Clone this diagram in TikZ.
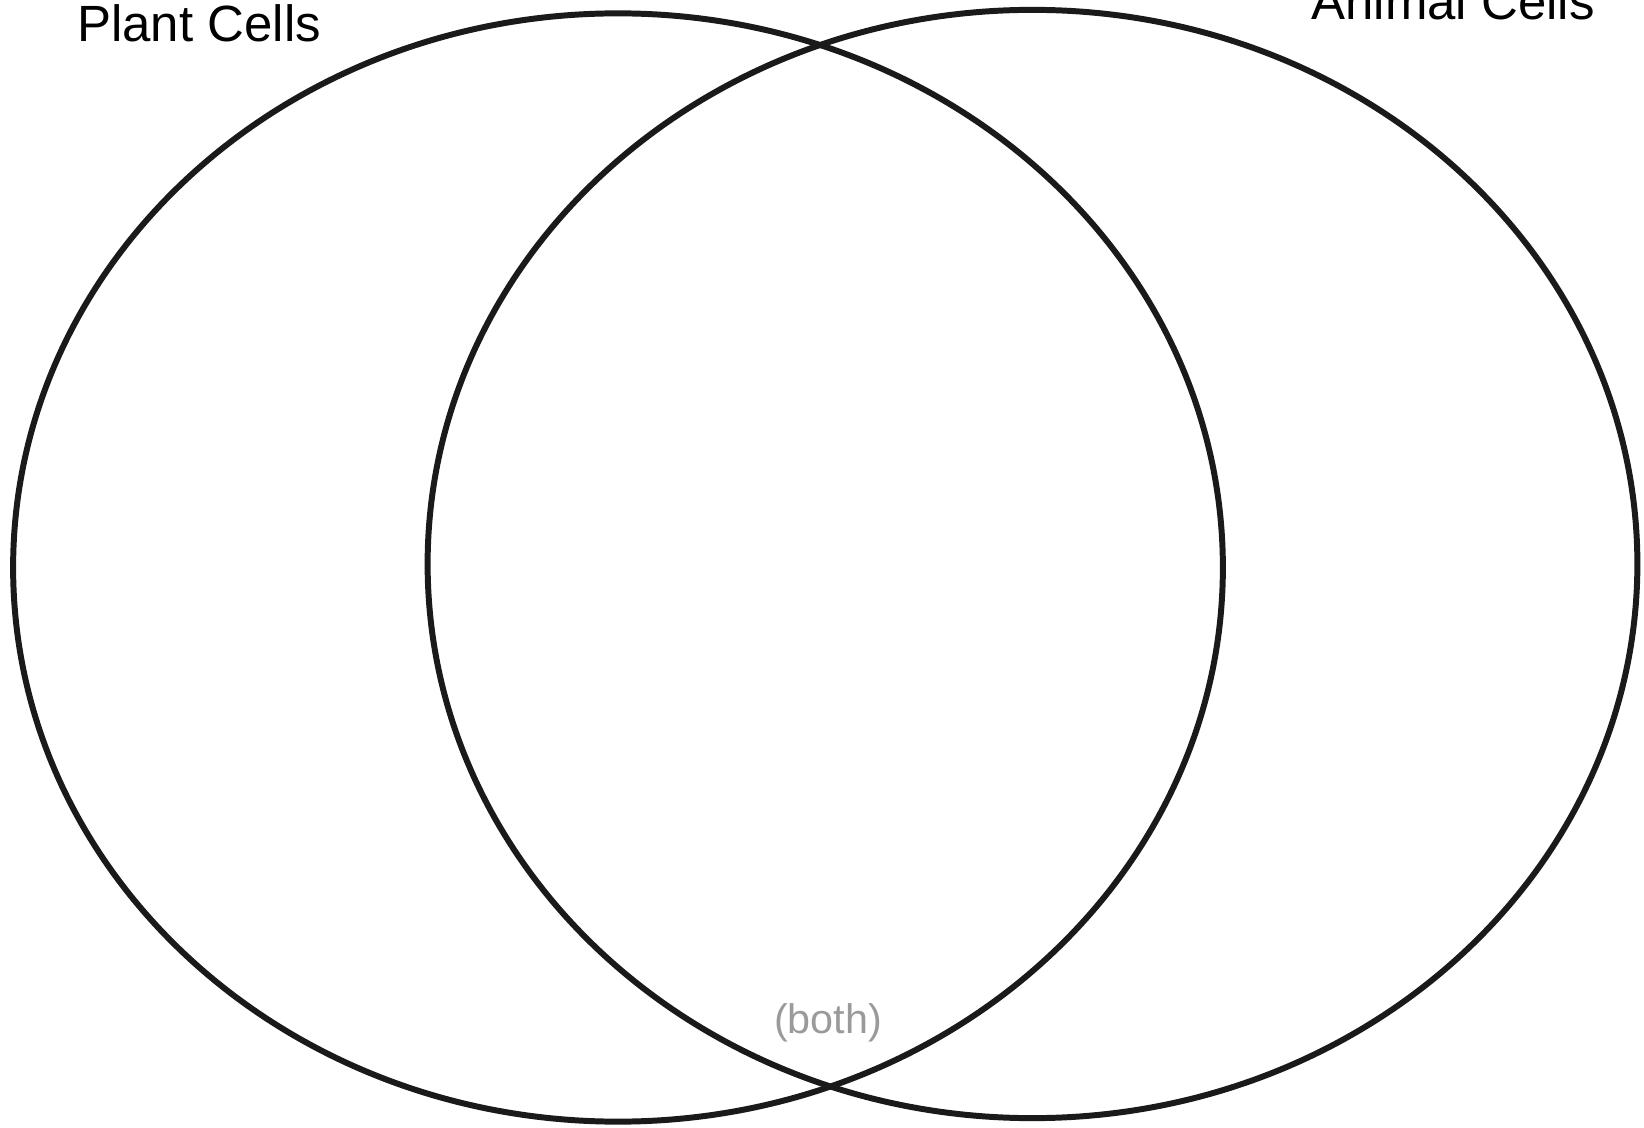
\documentclass[tikz,border=0pt]{standalone}
\usepackage{fontspec}
\setmainfont{Liberation Sans}
\usetikzlibrary{positioning,shapes.geometric}
\definecolor{ink}{HTML}{1A1A1A}
\definecolor{lgrey}{HTML}{9A9A9A}
\tikzset{
  every node/.append style={font=\rmfamily},
  venn/.style={ellipse, draw=ink, line width=3.4pt, inner sep=0pt, outer sep=0pt,
               minimum width=24.2cm, minimum height=22.17cm},
  ttl/.style={inner sep=0pt, text=black, font=\fontsize{29}{32}\selectfont},
  mid/.style={inner sep=0pt, text=lgrey, font=\fontsize{23.5}{26}\selectfont},
}
\begin{document}
\begin{tikzpicture}[x=0.02cm,y=-0.02cm]
  \useasboundingbox (0,0) rectangle (1644,1128);
  % --- the two sets ---
  \node[venn] (plant) at (618,567.5){};
  \node[venn] (animal) at (1032.5,564){};
  % --- labels ---
  \node[ttl, anchor=base west] (plantlbl) at (77,42){Plant Cells};
  \node[ttl, anchor=base east] (animallbl) at (1595,20){Animal Cells};
  \node[mid, anchor=base] (both) at (828,1033){(both)};
\end{tikzpicture}
\end{document}
